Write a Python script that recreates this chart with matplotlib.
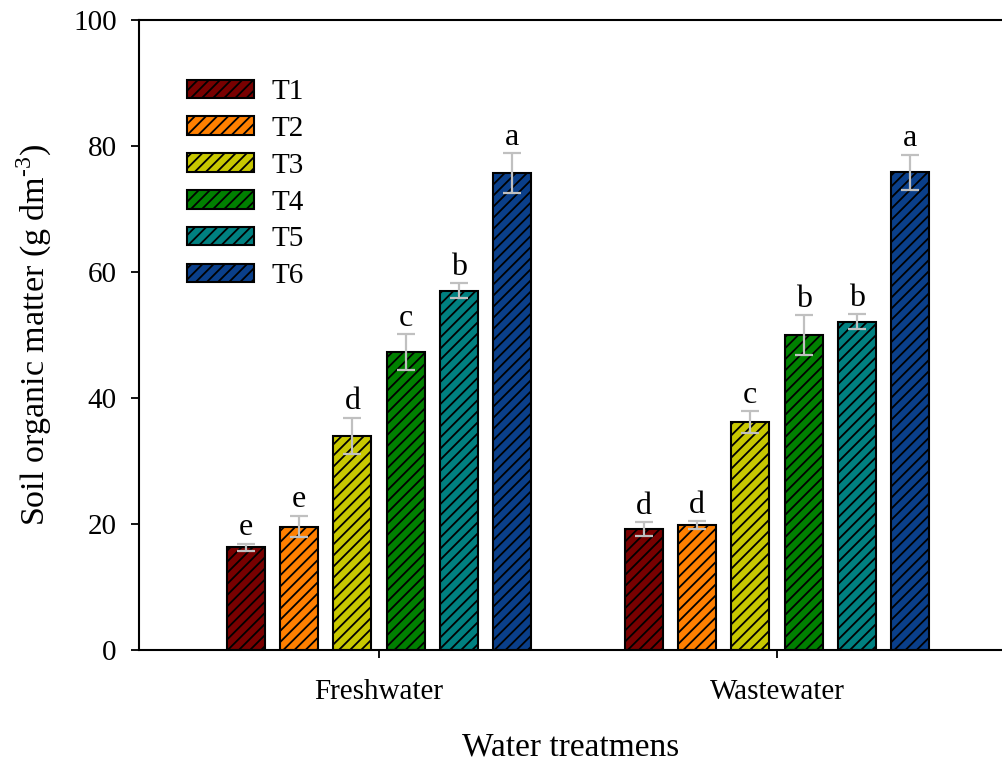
import numpy as np
import matplotlib
matplotlib.use("Agg")
import matplotlib.pyplot as plt

# Soil organic matter under two irrigation waters, six treatments each
groups = ["Freshwater", "Wastewater"]
treatments = ["T1", "T2", "T3", "T4", "T5", "T6"]
fresh_mean = [16.3, 19.6, 34.0, 47.3, 57.0, 75.7]
fresh_err = [0.6, 1.7, 2.9, 2.8, 1.2, 3.2]
fresh_letters = ["e", "e", "d", "c", "b", "a"]
waste_mean = [19.2, 19.8, 36.2, 50.0, 52.1, 75.8]
waste_err = [1.1, 0.6, 1.7, 3.1, 1.2, 2.8]
waste_letters = ["d", "d", "c", "b", "b", "a"]

colors = ["#780000", "#ff8000", "#c8c800", "#008000", "#008080", "#0a3f8a"]

plt.rcParams["font.family"] = ["Liberation Serif", "DejaVu Serif"]
plt.rcParams["mathtext.fontset"] = "custom"
plt.rcParams["mathtext.rm"] = "Liberation Serif"
plt.rcParams["hatch.linewidth"] = 1.3
plt.rcParams["hatch.color"] = "black"

fig = plt.figure(figsize=(10.03, 7.62), dpi=100)
ax = fig.add_axes([0.1386, 0.147, 0.8614, 0.8268])

step = 0.1337
width = 0.0955
x = np.arange(len(groups))
means = np.array([fresh_mean, waste_mean])
errs = np.array([fresh_err, waste_err])
letters = [fresh_letters, waste_letters]

for i, name in enumerate(treatments):
    pos = x + (i - 2.5) * step
    ax.bar(pos, means[:, i], width, color=colors[i], edgecolor="black",
           linewidth=1.5, hatch="///", label=name, zorder=2)
    ax.errorbar(pos, means[:, i], yerr=errs[:, i], fmt="none",
                ecolor="#c0c0c0", elinewidth=1.6, capsize=6.5,
                capthick=1.6, zorder=3)
    for g in range(len(groups)):
        ax.annotate(letters[g][i], (pos[g], means[g, i] + errs[g, i]),
                    xytext=(0, 6), textcoords="offset points",
                    ha="center", va="baseline", fontsize=23)

ax.set_xlim(-0.603, 1.568)
ax.set_ylim(0, 100)
ax.set_yticks(np.arange(0, 101, 20))
ax.set_xticks(x)
ax.set_xticklabels(groups)
ax.tick_params(axis="y", direction="out", length=6, width=1.3,
               labelsize=21, pad=10)
ax.tick_params(axis="x", direction="out", length=6, width=1.3,
               labelsize=21, pad=15)

for side in ["left", "bottom", "top"]:
    ax.spines[side].set_linewidth(1.5)
ax.spines["right"].set_visible(False)

ax.set_ylabel(r"Soil organic matter (g dm$^{\text{-3}}$)", fontsize=24.5,
              labelpad=14)
ax.set_xlabel("Water treatmens", fontsize=24, labelpad=19)

ax.legend(loc="upper left", bbox_to_anchor=(0.055, 0.906), frameon=False,
          fontsize=21, handlelength=2.3, handleheight=0.6,
          handletextpad=0.62, labelspacing=0.37, borderpad=0,
          borderaxespad=0)

fig.savefig("out.png", dpi=100)
